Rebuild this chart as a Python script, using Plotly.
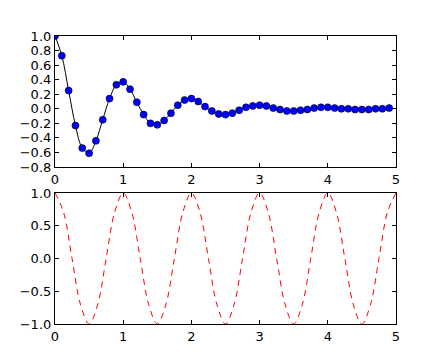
import plotly.graph_objects as go
from plotly.subplots import make_subplots

t1 = [0.0, 0.1, 0.2, 0.3, 0.4, 0.5, 0.6, 0.7, 0.8, 0.9,
      1.0, 1.1, 1.2, 1.3, 1.4, 1.5, 1.6, 1.7, 1.8, 1.9,
      2.0, 2.1, 2.2, 2.3, 2.4, 2.5, 2.6, 2.7, 2.8, 2.9,
      3.0, 3.1, 3.2, 3.3, 3.4, 3.5, 3.6, 3.7, 3.8, 3.9,
      4.0, 4.1, 4.2, 4.3, 4.4, 4.5, 4.6, 4.7, 4.8, 4.9]
y1 = [1.00, 0.73, 0.25, -0.23, -0.54, -0.61, -0.44, -0.15, 0.14, 0.33,
      0.37, 0.27, 0.09, -0.08, -0.20, -0.22, -0.16, -0.06, 0.05, 0.12,
      0.14, 0.10, 0.03, -0.03, -0.07, -0.08, -0.06, -0.02, 0.02, 0.04,
      0.05, 0.04, 0.01, -0.01, -0.03, -0.03, -0.02, -0.01, 0.01, 0.02,
      0.02, 0.01, 0.00, -0.00, -0.01, -0.01, -0.01, -0.00, 0.00, 0.01]

# Bottom panel: cosine wave
t2 = [0.0, 0.125, 0.25, 0.375, 0.5, 0.625, 0.75, 0.875,
      1.0, 1.125, 1.25, 1.375, 1.5, 1.625, 1.75, 1.875,
      2.0, 2.125, 2.25, 2.375, 2.5, 2.625, 2.75, 2.875,
      3.0, 3.125, 3.25, 3.375, 3.5, 3.625, 3.75, 3.875,
      4.0, 4.125, 4.25, 4.375, 4.5, 4.625, 4.75, 4.875, 5.0]
y2 = [1.0, 0.707, 0.0, -0.707, -1.0, -0.707, 0.0, 0.707,
      1.0, 0.707, 0.0, -0.707, -1.0, -0.707, 0.0, 0.707,
      1.0, 0.707, 0.0, -0.707, -1.0, -0.707, 0.0, 0.707,
      1.0, 0.707, 0.0, -0.707, -1.0, -0.707, 0.0, 0.707,
      1.0, 0.707, 0.0, -0.707, -1.0, -0.707, 0.0, 0.707, 1.0]

x_ticks = [0, 1, 2, 3, 4, 5]
top_yticks = [1.0, 0.8, 0.6, 0.4, 0.2, 0.0, -0.2, -0.4, -0.6, -0.8]
bot_yticks = [1.0, 0.5, 0.0, -0.5, -1.0]

fig = make_subplots(rows=2, cols=1)

fig.add_trace(go.Scatter(x=t1, y=y1, mode="lines", line=dict(color="black", width=1, shape="spline", smoothing=1.0),
                         hoverinfo="skip"), row=1, col=1)
fig.add_trace(go.Scatter(x=t1, y=y1, mode="markers",
                         marker=dict(color="#0000ff", size=7, line=dict(color="black", width=0.6))),
              row=1, col=1)
fig.add_trace(go.Scatter(x=t2, y=y2, mode="lines",
                         line=dict(color="red", width=1, dash="6px,5px", shape="spline", smoothing=1.0)),
              row=2, col=1)

axis_common = dict(showline=True, linecolor="black", linewidth=1.2, mirror="allticks",
                   ticks="inside", ticklen=4, tickcolor="black", showgrid=False, zeroline=False,
                   tickfont=dict(family="DejaVu Sans", size=13, color="black"))

fig.update_xaxes(range=[0, 5], tickvals=x_ticks, ticktext=[str(v) for v in x_ticks], **axis_common)
fig.update_yaxes(range=[-0.8, 1.0], tickvals=top_yticks,
                 ticktext=[f"{v:.1f}".replace("-", "\u2212") for v in top_yticks], row=1, col=1, **axis_common)
fig.update_yaxes(range=[-1.0, 1.0], tickvals=bot_yticks,
                 ticktext=[f"{v:.1f}".replace("-", "\u2212") for v in bot_yticks], row=2, col=1, **axis_common)

# Page has an 8px body margin, so the figure is sized/margined to compensate
fig.update_layout(
    width=432, height=352,
    margin=dict(l=47, r=44, t=28, b=36),
    paper_bgcolor="white", plot_bgcolor="white",
    showlegend=False,
    xaxis=dict(domain=[0, 1]),
    yaxis=dict(domain=[0.545, 1.0]),
    yaxis2=dict(domain=[0.0, 0.455]),
)

fig.write_html("out.html")
